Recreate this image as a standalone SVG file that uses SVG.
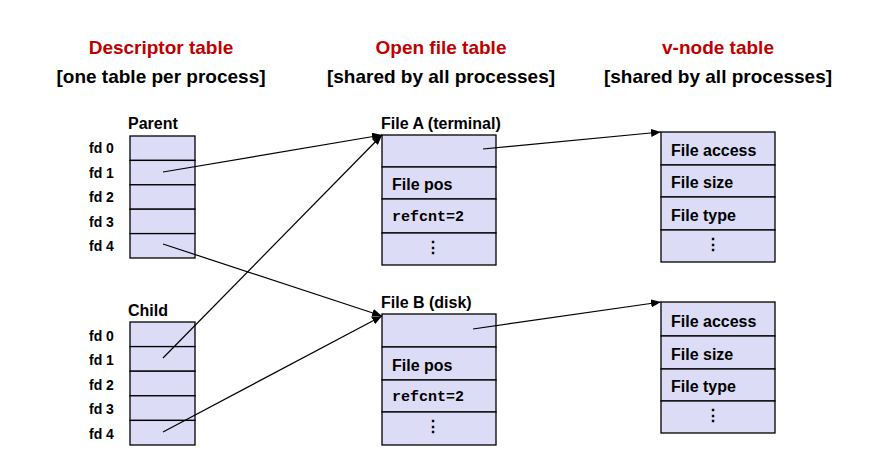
<svg xmlns="http://www.w3.org/2000/svg" width="878" height="454" viewBox="0 0 878 454">
<style>
text{font-family:"Liberation Sans",Arial,sans-serif;font-weight:bold;fill:#000}
.t{font-size:19px;fill:#c00000;text-anchor:middle}
.s{font-size:19px;text-anchor:middle}
.fd{font-size:14px}
.lb{font-size:16px}
.c{font-size:16px}
.m{font-family:"Liberation Mono",monospace;font-size:15px}
.d{font-size:16px;text-anchor:middle}
rect{fill:#dcdcf6;stroke:#000;stroke-width:1.3}
line.a{stroke:#000;stroke-width:1.2;marker-end:url(#ah)}
</style>
<defs><marker id="ah" markerWidth="10" markerHeight="8" refX="10" refY="4" orient="auto" markerUnits="userSpaceOnUse"><path d="M0,0L10,4L0,8z" fill="#000"/></marker></defs>
<rect x="0" y="0" width="878" height="454" style="fill:#fff;stroke:none"/>
<g id="titles">
<text class="t" x="161" y="54">Descriptor table</text>
<text class="s" x="161" y="83">[one table per process]</text>
<text class="t" x="441" y="54">Open file table</text>
<text class="s" x="441" y="83">[shared by all processes]</text>
<text class="t" x="718" y="54">v-node table</text>
<text class="s" x="718" y="83">[shared by all processes]</text>
</g>
<g id="parent">
<text class="lb" x="128" y="129">Parent</text>
<rect x="130" y="136" width="65" height="24.4"/><rect x="130" y="160.4" width="65" height="24.4"/><rect x="130" y="184.8" width="65" height="24.4"/><rect x="130" y="209.2" width="65" height="24.4"/><rect x="130" y="233.6" width="65" height="24.4"/>
<text class="fd" x="89" y="153">fd 0</text><text class="fd" x="89" y="178">fd 1</text><text class="fd" x="89" y="202">fd 2</text><text class="fd" x="89" y="227">fd 3</text><text class="fd" x="89" y="251">fd 4</text>
</g>
<g id="child">
<text class="lb" x="128" y="316">Child</text>
<rect x="130" y="322" width="65" height="24.6"/><rect x="130" y="346.6" width="65" height="24.6"/><rect x="130" y="371.2" width="65" height="24.6"/><rect x="130" y="395.8" width="65" height="24.6"/><rect x="130" y="420.4" width="65" height="24.6"/>
<text class="fd" x="89" y="341">fd 0</text><text class="fd" x="89" y="365">fd 1</text><text class="fd" x="89" y="390">fd 2</text><text class="fd" x="89" y="414">fd 3</text><text class="fd" x="89" y="439">fd 4</text>
</g>
<g id="fileA">
<text class="lb" x="381" y="129">File A (terminal)</text>
<rect x="382" y="135" width="114" height="32"/><rect x="382" y="167" width="114" height="32"/><rect x="382" y="199" width="114" height="34"/><rect x="382" y="233" width="114" height="32"/>
<text class="c" x="392" y="190">File pos</text><text class="m" x="392" y="221">refcnt=2</text><text class="d" x="433" y="253">⋮</text>
</g>
<g id="fileB">
<text class="lb" x="381" y="308">File B (disk)</text>
<rect x="382" y="314" width="114" height="33"/><rect x="382" y="347" width="114" height="33"/><rect x="382" y="380" width="114" height="32"/><rect x="382" y="412" width="114" height="33"/>
<text class="c" x="392" y="371">File pos</text><text class="m" x="392" y="401">refcnt=2</text><text class="d" x="433" y="432">⋮</text>
</g>
<g id="vnodeA">
<rect x="661" y="132" width="114" height="33"/><rect x="661" y="165" width="114" height="32"/><rect x="661" y="197" width="114" height="33"/><rect x="661" y="230" width="114" height="32"/>
<text class="c" x="671" y="156">File access</text><text class="c" x="671" y="188">File size</text><text class="c" x="671" y="221">File type</text><text class="d" x="713" y="250">⋮</text>
</g>
<g id="vnodeB">
<rect x="661" y="302" width="114" height="34"/><rect x="661" y="336" width="114" height="33"/><rect x="661" y="369" width="114" height="32"/><rect x="661" y="401" width="114" height="32"/>
<text class="c" x="671" y="327">File access</text><text class="c" x="671" y="360">File size</text><text class="c" x="671" y="392">File type</text><text class="d" x="713" y="421">⋮</text>
</g>
<g id="connectors">
<line class="a" x1="163" y1="172" x2="382" y2="135"/>
<line class="a" x1="163" y1="244" x2="382" y2="316"/>
<line class="a" x1="163" y1="358" x2="382" y2="135"/>
<line class="a" x1="163" y1="432" x2="382" y2="316"/>
<line class="a" x1="483" y1="149" x2="661" y2="132"/>
<line class="a" x1="473" y1="329" x2="661" y2="302"/>
</g>
</svg>
